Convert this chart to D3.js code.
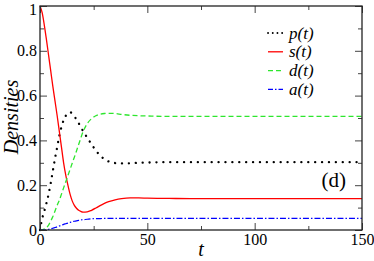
<!DOCTYPE html>
<html>
<head>
<meta charset="utf-8">
<script src="https://cdn.jsdelivr.net/npm/d3@7"></script>
<style>
  body { margin: 0; background: #fff; }
</style>
</head>
<body>
<div id="chart"></div>
<script>
// time points and densities
const tValues = [0,1,2,3,4,5,6,7,8,9,10,11,12,13,14,15,16,17,18,19,20,22,24,26,28,30,32,35,38,42,46,50,60,70,80,100,120,150];
const pValues = [0,0.05,0.085,0.12,0.16,0.21,0.265,0.32,0.37,0.42,0.46,0.49,0.51,0.522,0.526,0.52,0.508,0.493,0.477,0.46,0.443,
                 0.412,0.383,0.355,0.333,0.316,0.306,0.299,0.297,0.298,0.3,0.301,0.303,0.303,0.303,0.303,0.303,0.303];
const sValues = [1.0,0.97,0.915,0.85,0.78,0.71,0.64,0.575,0.51,0.44,0.37,0.30,0.245,0.20,0.16,0.13,0.11,0.097,0.088,0.083,0.08,
                 0.081,0.088,0.098,0.109,0.119,0.127,0.135,0.14,0.143,0.143,0.142,0.141,0.14,0.14,0.14,0.14,0.14];
const dValues = [0,0.001,0.004,0.01,0.022,0.04,0.06,0.085,0.11,0.133,0.16,0.188,0.215,0.243,0.27,0.298,0.325,0.353,0.382,0.41,0.437,
                 0.475,0.497,0.51,0.517,0.52,0.521,0.52,0.516,0.512,0.51,0.509,0.507,0.507,0.507,0.507,0.507,0.507];
const aValues = [0,0,0,0.001,0.003,0.005,0.008,0.011,0.014,0.018,0.021,0.025,0.028,0.031,0.034,0.037,0.039,0.041,0.043,0.045,0.046,
                 0.048,0.05,0.051,0.051,0.052,0.052,0.052,0.052,0.052,0.052,0.052,0.052,0.052,0.052,0.052,0.052,0.052];

const xMajor = [0, 50, 100, 150];
const xMinor = [25, 75, 125];
const yMajor = [0, 0.2, 0.4, 0.6, 0.8, 1];
const yMinor = [0.1, 0.3, 0.5, 0.7, 0.9];

const serif = '"Liberation Serif", "Times New Roman", serif';

const series = [
  {name: "p", label: "p(t)", values: pValues, color: "#000000", dash: "0.1,6.8", width: 2.3, legendDash: "0.1,4.6"},
  {name: "s", label: "s(t)", values: sValues, color: "#ff0000", dash: null, width: 1.3, legendDash: null},
  {name: "d", label: "d(t)", values: dValues, color: "#2ee62e", dash: "5,3", width: 1.3, legendDash: "5,3"},
  {name: "a", label: "a(t)", values: aValues, color: "#0000ff", dash: "6,2,1.5,2", width: 1.2, legendDash: "5,2,1.5,2"}
];

const W = 374, H = 261;
const margin = {top: 6, right: 12, bottom: 31, left: 40};
const width = W - margin.left - margin.right;
const height = H - margin.top - margin.bottom;

const svg = d3.select("#chart")
  .append("svg")
    .attr("width", W)
    .attr("height", H)
    .attr("font-family", serif)
  .append("g")
    .attr("transform", `translate(${margin.left},${margin.top})`);

const x = d3.scaleLinear().domain([0, 150]).range([0, width]);
const y = d3.scaleLinear().domain([0, 1]).range([height, 0]);

// curves
const line = d3.line()
  .x((d, i) => x(tValues[i]))
  .y(d => y(d))
  .curve(d3.curveMonotoneX);

svg.append("g")
  .selectAll("path")
  .data(series)
  .join("path")
    .attr("d", d => line(d.values))
    .attr("fill", "none")
    .attr("stroke", d => d.color)
    .attr("stroke-width", d => d.width)
    .attr("stroke-dasharray", d => d.dash)
    .attr("stroke-linecap", d => d.name === "p" ? "round" : "butt");

// axes, ticks pointing inward on all four sides
function styleAxis(g) {
  g.attr("font-family", serif);
  g.select(".domain").remove();
  g.selectAll("line").attr("stroke", "#444").attr("stroke-width", 1);
  g.selectAll("text").style("font-size", "16px").attr("fill", "#000");
}

svg.append("g")
  .attr("transform", `translate(0,${height})`)
  .call(d3.axisBottom(x).tickValues(xMajor).tickSize(-7).tickPadding(4))
  .call(styleAxis);
svg.append("g")
  .attr("transform", `translate(0,${height})`)
  .call(d3.axisBottom(x).tickValues(xMinor).tickSize(-4).tickFormat(""))
  .call(styleAxis);
svg.append("g")
  .call(d3.axisTop(x).tickValues(xMajor).tickSize(-7).tickFormat(""))
  .call(styleAxis);
svg.append("g")
  .call(d3.axisTop(x).tickValues(xMinor).tickSize(-4).tickFormat(""))
  .call(styleAxis);

svg.append("g")
  .call(d3.axisLeft(y).tickValues(yMajor).tickSize(-7).tickPadding(3).tickFormat(d => d))
  .call(styleAxis);
svg.append("g")
  .call(d3.axisLeft(y).tickValues(yMinor).tickSize(-4).tickFormat(""))
  .call(styleAxis);
svg.append("g")
  .attr("transform", `translate(${width},0)`)
  .call(d3.axisRight(y).tickValues(yMajor).tickSize(-7).tickFormat(""))
  .call(styleAxis);
svg.append("g")
  .attr("transform", `translate(${width},0)`)
  .call(d3.axisRight(y).tickValues(yMinor).tickSize(-4).tickFormat(""))
  .call(styleAxis);

// the top "1" label sits a little below its tick, as in the figure
svg.selectAll(".tick text").filter(d => d === 1).attr("dy", "0.5em");

// frame
svg.append("rect")
  .attr("width", width)
  .attr("height", height)
  .attr("fill", "none")
  .attr("stroke", "#222")
  .attr("stroke-width", 1.3);

// axis titles
svg.append("text")
  .attr("transform", `translate(${-22},${height / 2 - 1}) rotate(-90)`)
  .attr("text-anchor", "middle")
  .style("font-size", "20px")
  .style("font-style", "italic")
  .text("Densities");

svg.append("text")
  .attr("x", x(75))
  .attr("y", height + 26)
  .attr("text-anchor", "middle")
  .style("font-size", "20px")
  .style("font-style", "italic")
  .text("t");

// legend
const legend = svg.append("g")
  .attr("transform", `translate(${228},${27})`);
const rows = legend.selectAll("g")
  .data(series)
  .join("g")
  .attr("transform", (d, i) => `translate(0,${i * 18.8})`);
rows.append("line")
  .attr("x1", 0).attr("x2", 15)
  .attr("stroke", d => d.color)
  .attr("stroke-width", d => d.name === "p" ? 1.8 : d.width)
  .attr("stroke-dasharray", d => d.legendDash)
  .attr("stroke-linecap", d => d.name === "p" ? "round" : "butt");
rows.append("text")
  .attr("x", 21)
  .attr("dy", "0.33em")
  .style("font-size", "17px")
  .style("font-style", "italic")
  .text(d => d.label);

// panel tag
svg.append("text")
  .attr("x", width - 16)
  .attr("y", y(0.2) + 2)
  .attr("text-anchor", "end")
  .style("font-size", "21px")
  .text("(d)");

svg.selectAll("text").style("font-family", serif);
</script>
</body>
</html>
